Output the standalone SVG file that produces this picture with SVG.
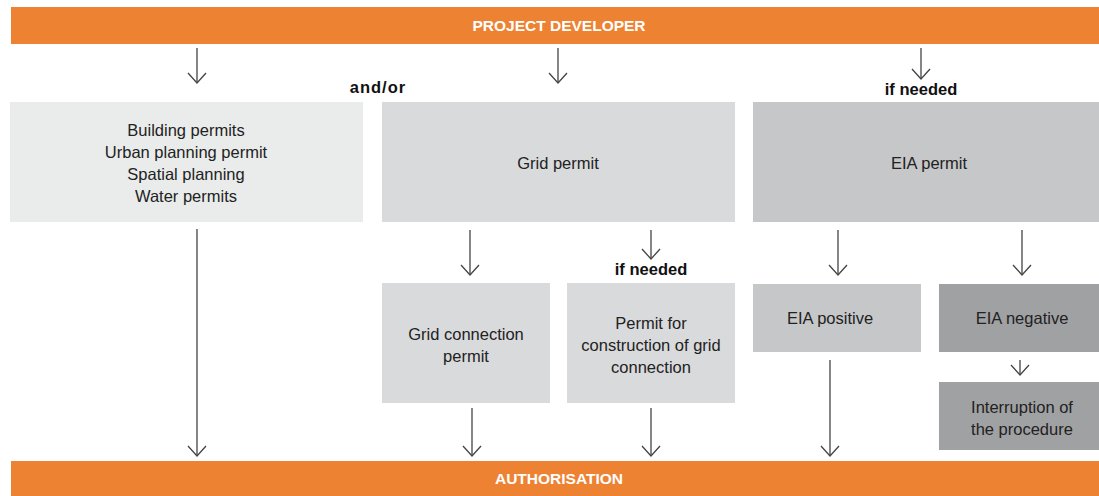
<svg xmlns="http://www.w3.org/2000/svg" width="1099" height="496" viewBox="0 0 1099 496">
<style>
.bar{fill:#ee8233}
.bt{font-family:"Liberation Sans",Arial,sans-serif;font-size:15.5px;font-weight:bold;fill:#ffffff;text-anchor:middle}
.t{font-family:"Liberation Sans",Arial,sans-serif;font-size:16.5px;fill:#222222;text-anchor:middle}
.lb{font-family:"Liberation Sans",Arial,sans-serif;font-size:16.5px;font-weight:bold;fill:#111111;text-anchor:middle}
.a{fill:none;stroke:#444444;stroke-width:1.3}
</style>
<defs>
<marker id="ah" viewBox="0 0 12 20" refX="11" refY="10" markerWidth="12" markerHeight="20" markerUnits="userSpaceOnUse" orient="auto">
<path d="M1,1 L11,10 L1,19" fill="none" stroke="#444444" stroke-width="1.3"/>
</marker>
</defs>
<g id="project-developer"><rect class="bar" x="11" y="7" width="1088" height="37"/><text class="bt" x="559" y="31">PROJECT DEVELOPER</text></g>
<g id="authorisation"><rect class="bar" x="11" y="461" width="1088" height="35"/><text class="bt" x="559" y="484">AUTHORISATION</text></g>
<g id="building"><rect x="10" y="102" width="353" height="120" fill="#eaeceb"/>
<text class="t" x="186" y="136">Building permits</text><text class="t" x="186" y="158">Urban planning permit</text><text class="t" x="186" y="180">Spatial planning</text><text class="t" x="186" y="202">Water permits</text></g>
<g id="grid-permit"><rect x="382" y="102" width="353" height="120" fill="#d9dadc"/><text class="t" x="558" y="169">Grid permit</text></g>
<g id="eia-permit"><rect x="753" y="102" width="346" height="120" fill="#c6c7c9"/><text class="t" x="929" y="169">EIA permit</text></g>
<g id="grid-connection"><rect x="382" y="283" width="168" height="120" fill="#d9dadc"/><text class="t" x="466" y="340">Grid connection</text><text class="t" x="466" y="362">permit</text></g>
<g id="construction"><rect x="567" y="283" width="168" height="120" fill="#d9dadc"/><text class="t" x="651" y="329">Permit for</text><text class="t" x="651" y="351">construction of grid</text><text class="t" x="651" y="373">connection</text></g>
<g id="eia-positive"><rect x="753" y="284" width="168" height="68" fill="#c6c7c9"/><text class="t" x="830" y="324">EIA positive</text></g>
<g id="eia-negative"><rect x="939" y="284" width="160" height="68" fill="#a0a1a3"/><text class="t" x="1022" y="324">EIA negative</text></g>
<g id="interruption"><rect x="939" y="382" width="160" height="68" fill="#a0a1a3"/><text class="t" x="1022" y="413">Interruption of</text><text class="t" x="1022" y="435">the procedure</text></g>
<g id="labels"><text class="lb" x="378" y="93" letter-spacing="1">and/or</text><text class="lb" x="921" y="95">if needed</text><text class="lb" x="651" y="275">if needed</text></g>
<g id="connectors">
<path class="a" d="M197,48 V83" marker-end="url(#ah)"/>
<path class="a" d="M558,48 V83" marker-end="url(#ah)"/>
<path class="a" d="M921,48 V79" marker-end="url(#ah)"/>
<path class="a" d="M470,230 V275" marker-end="url(#ah)"/>
<path class="a" d="M651,230 V259" marker-end="url(#ah)"/>
<path class="a" d="M838,230 V275" marker-end="url(#ah)"/>
<path class="a" d="M1022,230 V275" marker-end="url(#ah)"/>
<path class="a" d="M1020,360 V375" marker-end="url(#ah)"/>
<path class="a" d="M197,229 V456" marker-end="url(#ah)"/>
<path class="a" d="M472,408 V456" marker-end="url(#ah)"/>
<path class="a" d="M651,408 V456" marker-end="url(#ah)"/>
<path class="a" d="M830,360 V456" marker-end="url(#ah)"/>
</g>
</svg>
